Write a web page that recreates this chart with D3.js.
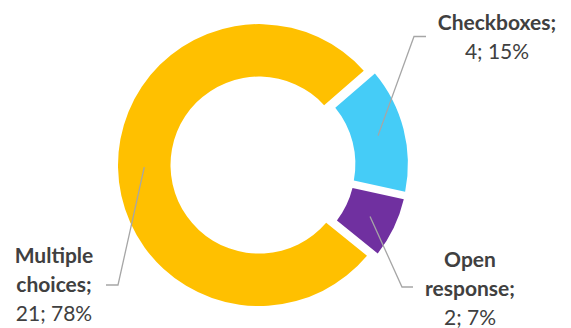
<!DOCTYPE html>
<html>
<head>
<meta charset="utf-8">
<script src="https://cdn.jsdelivr.net/npm/d3@7"></script>
<style>
  html, body { margin: 0; padding: 0; background: #fff; }
  svg { display: block; }
  text { font-family: Lato, "Open Sans", sans-serif; fill: #404040; }
</style>
</head>
<body>
<svg id="chart" width="571" height="328"></svg>
<script>
// data
const categories = ['Checkboxes', 'Open response', 'Multiple choices'];
const counts = [4, 2, 21];
const colors = ['#45CCF7', '#7030A0', '#FFC000'];

// label layout: name lines, centre x, first baseline, leader elbow and end
const labelLayout = {
  'Checkboxes':       { lines: ['Checkboxes;'], x: 497, y: 30, elbow: [414, 36.5], endX: 426 },
  'Open response':    { lines: ['Open', 'response;'], x: 470, y: 267, elbow: [402, 287], endX: 413 },
  'Multiple choices': { lines: ['Multiple', 'choices;'], x: 54, y: 263, elbow: [118, 285], endX: 106 }
};

const cx = 263, cy = 165;
const outerR = 141, innerR = 88.5;
const explode = 4;
const lineH = 29;

const svg = d3.select('#chart');
const total = d3.sum(counts);
const rows = categories.map((c, i) => ({ name: c, value: counts[i], color: colors[i] }));

const start = 49 * Math.PI / 180;
const pie = d3.pie().value(d => d.value).sort(null)
  .startAngle(start).endAngle(start + 2 * Math.PI);
const arc = d3.arc().innerRadius(innerR).outerRadius(outerR).padAngle(0.03);

function shift(d) {
  const mid = (d.startAngle + d.endAngle) / 2;
  return [explode * Math.sin(mid), -explode * Math.cos(mid)];
}

const arcs = pie(rows);
const g = svg.append('g').attr('transform', `translate(${cx},${cy})`);

g.selectAll('path.slice')
  .data(arcs)
  .join('path')
  .attr('class', 'slice')
  .attr('fill', d => d.data.color)
  .attr('transform', d => `translate(${shift(d)})`)
  .attr('d', arc);

// leader lines from slice centroid to the label
arcs.forEach(d => {
  const lay = labelLayout[d.data.name];
  const c = arc.centroid(d);
  const s = shift(d);
  const sx = cx + c[0] + s[0], sy = cy + c[1] + s[1];
  svg.append('polyline')
    .attr('points', `${sx},${sy} ${lay.elbow[0]},${lay.elbow[1]} ${lay.endX},${lay.elbow[1]}`)
    .attr('fill', 'none')
    .attr('stroke', '#A6A6A6')
    .attr('stroke-width', 1.3);
});

// labels
rows.forEach(row => {
  const lay = labelLayout[row.name];
  const t = svg.append('text')
    .attr('text-anchor', 'middle')
    .style('font-size', '21px');
  lay.lines.forEach((ln, i) => {
    t.append('tspan')
      .attr('x', lay.x)
      .attr('y', lay.y + i * lineH)
      .style('font-weight', 'bold')
      .text(ln);
  });
  const pct = Math.round(row.value / total * 100);
  t.append('tspan')
    .attr('x', lay.x)
    .attr('y', lay.y + lay.lines.length * lineH)
    .text(`${row.value}; ${pct}%`);
});
</script>
</body>
</html>
